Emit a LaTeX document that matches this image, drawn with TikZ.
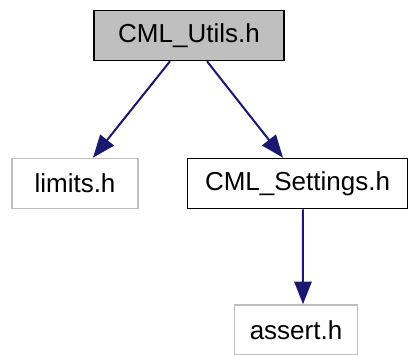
\documentclass[tikz,border=0pt]{standalone}
\usepackage{fontspec}
\setmainfont{Liberation Sans}
\usepackage{tikz}
\usetikzlibrary{positioning, arrows.meta}

\definecolor{edgeblue}{HTML}{191970}
\definecolor{boxgray}{HTML}{BFBFBF}
\definecolor{linegray}{HTML}{BFBFBF}

\begin{document}
\begin{tikzpicture}[
    x=0.75pt, y=-0.75pt,
    file/.style={rectangle, draw, line width=1.2pt, minimum height=37.5pt, align=center, inner sep=0pt, font=\fontsize{19.5}{22}\selectfont},
    mainfile/.style={file, fill=boxgray, draw=black},
    sysfile/.style={file, draw=linegray},
    line/.style={draw=edgeblue, line width=1.5pt, -{Triangle[length=17pt, width=13pt]}}
]
    \useasboundingbox (0,0) rectangle (410,354);

    % Files
    \node[mainfile, minimum width=142.5pt] (utils) at (189,35.5) {CML\_Utils.h};
    \node[sysfile, minimum width=94.5pt] (limits) at (75,183.5) {limits.h};
    \node[file, minimum width=165pt] (settings) at (297.5,183.5) {CML\_Settings.h};
    \node[sysfile, minimum width=92pt] (assert) at (296,330) {assert.h};

    % Edges - Includes
    \draw[line] ([xshift=-14.25pt]utils.south) -- ([xshift=13.5pt]limits.north);
    \draw[line] ([xshift=13.5pt]utils.south) -- ([xshift=-10.9pt]settings.north);
    \draw[line] ([xshift=4.1pt]settings.south) -- ([xshift=5.25pt]assert.north);

\end{tikzpicture}
\end{document}
